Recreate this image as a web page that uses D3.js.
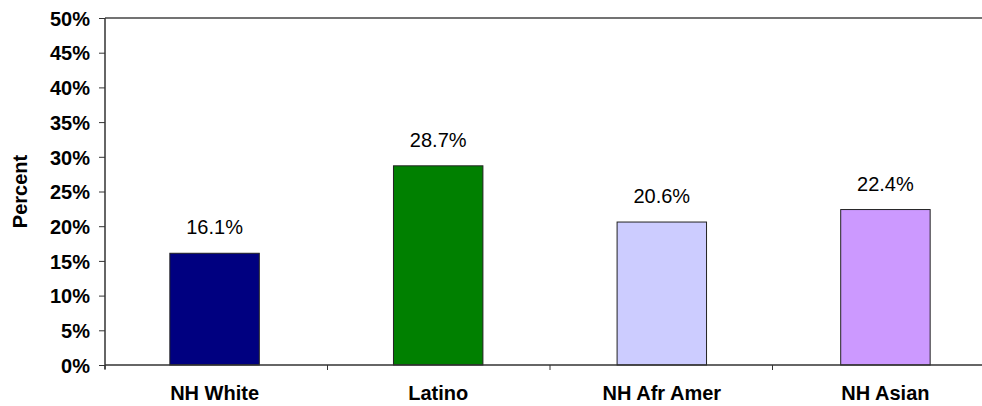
<!DOCTYPE html>
<html>
<head>
<meta charset="utf-8">
<script src="https://cdn.jsdelivr.net/npm/d3@7"></script>
<style>
  html, body { margin: 0; padding: 0; background: #fff; }
  svg { display: block; }
  text { font-family: "Liberation Sans", Arial, sans-serif; fill: #000; }
</style>
</head>
<body>
<svg id="chart" width="982" height="406"></svg>
<script>
// Share of each group, in percent
const categories = ["NH White", "Latino", "NH Afr Amer", "NH Asian"];
const values = [16.1, 28.7, 20.6, 22.4];
const barColors = ["#000080", "#008000", "#CCCCFF", "#CC99FF"];
const yTicks = [0, 5, 10, 15, 20, 25, 30, 35, 40, 45, 50];
const yTitle = "Percent";

(function () {
  const svg = d3.select("#chart");
  const plotLeft = 105, plotTop = 18, plotBottom = 365;
  const step = 222.5;

  const x = d3.scaleBand()
    .domain(categories)
    .range([plotLeft, plotLeft + step * categories.length])
    .paddingInner(0.6)
    .paddingOuter(0.29);

  const y = d3.scaleLinear().domain([0, 50]).range([plotBottom, plotTop]);

  // Top edge of the plot frame
  svg.append("line")
    .attr("x1", plotLeft).attr("x2", 982)
    .attr("y1", y(50)).attr("y2", y(50))
    .attr("stroke", "#444").attr("stroke-width", 1.5);

  // Bars
  svg.selectAll("rect.bar")
    .data(values)
    .join("rect")
    .attr("class", "bar")
    .attr("x", (d, i) => x(categories[i]))
    .attr("y", d => y(d))
    .attr("width", x.bandwidth())
    .attr("height", d => y(0) - y(d))
    .attr("fill", (d, i) => barColors[i])
    .attr("stroke", "#222")
    .attr("stroke-width", 1);

  // Value labels above bars
  svg.selectAll("text.val")
    .data(values)
    .join("text")
    .attr("class", "val")
    .attr("x", (d, i) => x(categories[i]) + x.bandwidth() / 2)
    .attr("y", d => y(d) - 19)
    .attr("text-anchor", "middle")
    .style("font-size", "20px")
    .text(d => d.toFixed(1) + "%");

  // Y axis
  const yAxis = d3.axisLeft(y)
    .tickValues(yTicks)
    .tickFormat(d => d + "%")
    .tickSize(6)
    .tickPadding(9);
  const gy = svg.append("g").attr("transform", `translate(${plotLeft},0)`).call(yAxis);
  gy.select(".domain").attr("d", `M0,${plotTop}V${plotBottom + 4}`).attr("stroke", "#333").attr("stroke-width", 1.5);
  gy.selectAll(".tick line").attr("stroke", "#333");
  gy.selectAll(".tick text")
    .style("font-size", "20px")
    .style("font-weight", "bold")
    .attr("dy", "0.36em")
    .attr("fill", "#000");

  // X axis with category boundary ticks
  svg.append("line")
    .attr("x1", plotLeft).attr("x2", 982)
    .attr("y1", plotBottom).attr("y2", plotBottom)
    .attr("stroke", "#333").attr("stroke-width", 1.5);
  const bounds = d3.range(categories.length + 1).map(i => plotLeft + i * step).filter(v => v <= 982);
  svg.selectAll("line.xtick")
    .data(bounds)
    .join("line")
    .attr("class", "xtick")
    .attr("x1", d => d).attr("x2", d => d)
    .attr("y1", plotBottom).attr("y2", plotBottom + 5)
    .attr("stroke", "#333");

  svg.selectAll("text.cat")
    .data(categories)
    .join("text")
    .attr("class", "cat")
    .attr("x", d => x(d) + x.bandwidth() / 2)
    .attr("y", 400)
    .attr("text-anchor", "middle")
    .style("font-size", "20px")
    .style("font-weight", "bold")
    .text(d => d);

  // Y axis title
  svg.append("text")
    .attr("transform", `translate(27,${(plotTop + plotBottom) / 2}) rotate(-90)`)
    .attr("text-anchor", "middle")
    .style("font-size", "20px")
    .style("font-weight", "bold")
    .text(yTitle);
})();
</script>
</body>
</html>
